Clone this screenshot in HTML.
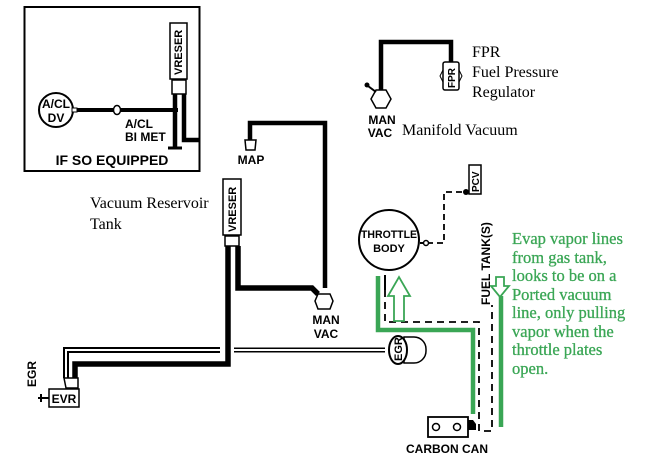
<!DOCTYPE html>
<html><head><meta charset="utf-8"><style>
html,body{margin:0;padding:0;background:#fff;}
svg{display:block;}
.s{font-family:"Liberation Sans",sans-serif;font-weight:bold;fill:#000;}
.r{font-family:"Liberation Serif",serif;fill:#000;}
.g{font-family:"Liberation Serif",serif;fill:#3aa655;font-size:16.5px;stroke:#3aa655;stroke-width:0.3;}
</style></head><body>
<svg width="650" height="459" viewBox="0 0 650 459" xmlns="http://www.w3.org/2000/svg">
<rect width="650" height="459" fill="#fff"/>
<!-- inset box -->
<rect x="24.5" y="7" width="175" height="164" fill="none" stroke="#000" stroke-width="2"/>
<rect x="170" y="23" width="17" height="56" fill="#fff" stroke="#000" stroke-width="1.5"/>
<text class="s" font-size="11" transform="translate(182,75) rotate(-90)">VRESER</text>
<rect x="172" y="80" width="14" height="14" fill="#fff" stroke="#000" stroke-width="1.5"/>
<path d="M175 94 V148 M184 94 V140 H199" stroke="#000" stroke-width="4.5" fill="none"/>
<path d="M168 148 H182" stroke="#000" stroke-width="3"/>
<line x1="72" y1="110" x2="178" y2="110" stroke="#000" stroke-width="4"/>
<ellipse cx="117" cy="110" rx="3.5" ry="4.5" fill="#fff" stroke="#000" stroke-width="1.5"/>
<circle cx="56" cy="110" r="17" fill="#fff" stroke="#000" stroke-width="2"/>
<rect x="72" y="108" width="5" height="4" fill="#fff" stroke="#000"/>
<text class="s" font-size="12" x="56" y="108" text-anchor="middle">A/CL</text>
<text class="s" font-size="12" x="56" y="122" text-anchor="middle">DV</text>
<text class="s" font-size="12" x="125" y="128">A/CL</text>
<text class="s" font-size="12" x="125" y="141">BI MET</text>
<text class="s" font-size="14" x="112" y="165" text-anchor="middle">IF SO EQUIPPED</text>

<!-- MAP -->
<path d="M250 140 V123 H325 V288" stroke="#000" stroke-width="4.5" fill="none"/>
<path d="M245 140 h11 l-1 10 h-9 z" fill="#fff" stroke="#000" stroke-width="1.5"/>
<text class="s" font-size="12" x="251" y="164" text-anchor="middle">MAP</text>
<text class="r" font-size="16" x="90" y="208">Vacuum Reservoir</text>
<text class="r" font-size="16" x="90" y="229">Tank</text>

<!-- VRESER 2 -->
<rect x="223" y="179" width="18" height="56" fill="#fff" stroke="#000" stroke-width="1.5"/>
<text class="s" font-size="11" transform="translate(236,232) rotate(-90)">VRESER</text>
<rect x="225" y="236" width="14" height="10" fill="#fff" stroke="#000" stroke-width="1.5"/>
<path d="M228 246 V364 H75 V378" stroke="#000" stroke-width="5.5" fill="none"/>
<path d="M238 246 V288 H312 L318 294" stroke="#000" stroke-width="5.5" fill="none"/>
<polygon points="318,294 330,294 333,301 330,309 318,309 315,301" fill="#fff" stroke="#000" stroke-width="1.5"/>
<text class="s" font-size="12" x="326" y="324" text-anchor="middle">MAN</text>
<text class="s" font-size="12" x="326" y="338" text-anchor="middle">VAC</text>

<!-- left outlined lines -->
<path d="M220 350 H66 V378" stroke="#000" stroke-width="6" fill="none"/>
<path d="M220 350 H66 V378" stroke="#fff" stroke-width="2" fill="none"/>
<path d="M234 350 H385" stroke="#000" stroke-width="5" fill="none"/>
<path d="M234 350 H385" stroke="#fff" stroke-width="2" fill="none"/>
<path d="M64 378 h14 v10 h-12 z" fill="#fff" stroke="#000" stroke-width="1.5"/>
<rect x="49" y="389" width="30" height="18" fill="#fff" stroke="#000" stroke-width="1.5"/>
<text class="s" font-size="12" x="64" y="403" text-anchor="middle">EVR</text>
<path d="M38 398 H49 M41 394 V402" stroke="#000" stroke-width="2"/>
<text class="s" font-size="12" transform="translate(36,387) rotate(-90)">EGR</text>

<!-- EGR valve -->
<path d="M404 337 h10 a12 12 0 0 1 12 12 v2 a12 12 0 0 1 -12 12 h-10 z" fill="#fff" stroke="#000" stroke-width="1.5"/>
<ellipse cx="398" cy="350" rx="9" ry="14" fill="#fff" stroke="#000" stroke-width="2"/>
<text class="s" font-size="11" transform="translate(402,361) rotate(-90)">EGR</text>

<!-- Manifold / FPR -->
<path d="M381 90 V42 H451 V63" stroke="#000" stroke-width="4.5" fill="none"/>
<polygon points="376,90 386,90 391,99 386,108 376,108 371,99" fill="#fff" stroke="#000" stroke-width="1.5"/>
<path d="M376 92 L368 86" stroke="#000" stroke-width="2"/>
<circle cx="367" cy="85" r="2.5" fill="#000"/>
<rect x="443" y="62" width="16" height="28" rx="2" fill="#fff" stroke="#000" stroke-width="1.5"/>
<path d="M443 70 l-3 6 l3 6 M459 70 l3 6 l-3 6" stroke="#000" fill="none"/>
<text class="s" font-size="10" transform="translate(455,88) rotate(-90)">FPR</text>
<text class="r" font-size="16" x="472" y="57">FPR</text>
<text class="r" font-size="16" x="472" y="77">Fuel Pressure</text>
<text class="r" font-size="16" x="472" y="97">Regulator</text>
<text class="s" font-size="12" x="382" y="124" text-anchor="middle">MAN</text>
<text class="s" font-size="12" x="380" y="137" text-anchor="middle">VAC</text>
<text class="r" font-size="16" x="402" y="135">Manifold Vacuum</text>

<!-- Throttle body & PCV -->
<path d="M427 243 H444 V192 H466" stroke="#000" stroke-width="1.8" fill="none" stroke-dasharray="6,4"/>
<path d="M420 243 H428" stroke="#000" stroke-width="2"/>
<circle cx="426" cy="243" r="2.5" fill="#fff" stroke="#000" stroke-width="1.5"/>
<circle cx="466" cy="192" r="3" fill="#000"/>
<rect x="469" y="165" width="12" height="29" fill="#fff" stroke="#000" stroke-width="1.5"/>
<text class="s" font-size="10" transform="translate(479,192) rotate(-90)">PCV</text>
<circle cx="389" cy="240" r="30" fill="#fff" stroke="#000" stroke-width="2"/>
<text class="s" font-size="11" x="389" y="238" text-anchor="middle" textLength="56" lengthAdjust="spacingAndGlyphs">THROTTLE</text>
<text class="s" font-size="11" x="389" y="252" text-anchor="middle">BODY</text>

<!-- dashed lines to carbon can -->
<path d="M385 275 V290" stroke="#000" stroke-width="2"/>
<path d="M385 290 V322 H479 V431 H492 V305" stroke="#000" stroke-width="1.8" fill="none" stroke-dasharray="7,5"/>
<!-- green lines -->
<path d="M378 276 V330 H473 V414" stroke="#3aa655" stroke-width="4.5" fill="none"/>
<path d="M501 296 V427" stroke="#3aa655" stroke-width="4.5" fill="none"/>
<path d="M394 321 V296 H388 L399 277 L410 296 H404 V321 Z" fill="#fff" stroke="#3aa655" stroke-width="1.8"/>
<path d="M496 277 V286 H491 L500 297 L509 286 H504 V277 Z" fill="#fff" stroke="#3aa655" stroke-width="1.8"/>
<!-- carbon can -->
<rect x="428" y="417" width="40" height="20" fill="#fff" stroke="#000" stroke-width="1.8"/>
<circle cx="436" cy="427" r="3.5" fill="#fff" stroke="#000" stroke-width="1.5"/>
<circle cx="457" cy="427" r="3.5" fill="#fff" stroke="#000" stroke-width="1.5"/>
<path d="M468 420 h5 l3 4 v6 h-8 z" fill="#000"/>
<text class="s" font-size="12" x="447" y="453" text-anchor="middle">CARBON CAN</text>
<text class="s" font-size="12" transform="translate(490,305) rotate(-90)">FUEL TANK(S)</text>

<!-- green annotation -->
<text class="g" x="512" y="244">Evap vapor lines</text>
<text class="g" x="512" y="263">from gas tank,</text>
<text class="g" x="512" y="281">looks to be on a</text>
<text class="g" x="512" y="300">Ported vacuum</text>
<text class="g" x="512" y="318">line, only pulling</text>
<text class="g" x="512" y="337">vapor when the</text>
<text class="g" x="512" y="355">throttle plates</text>
<text class="g" x="512" y="374">open.</text>
</svg>
</body></html>
